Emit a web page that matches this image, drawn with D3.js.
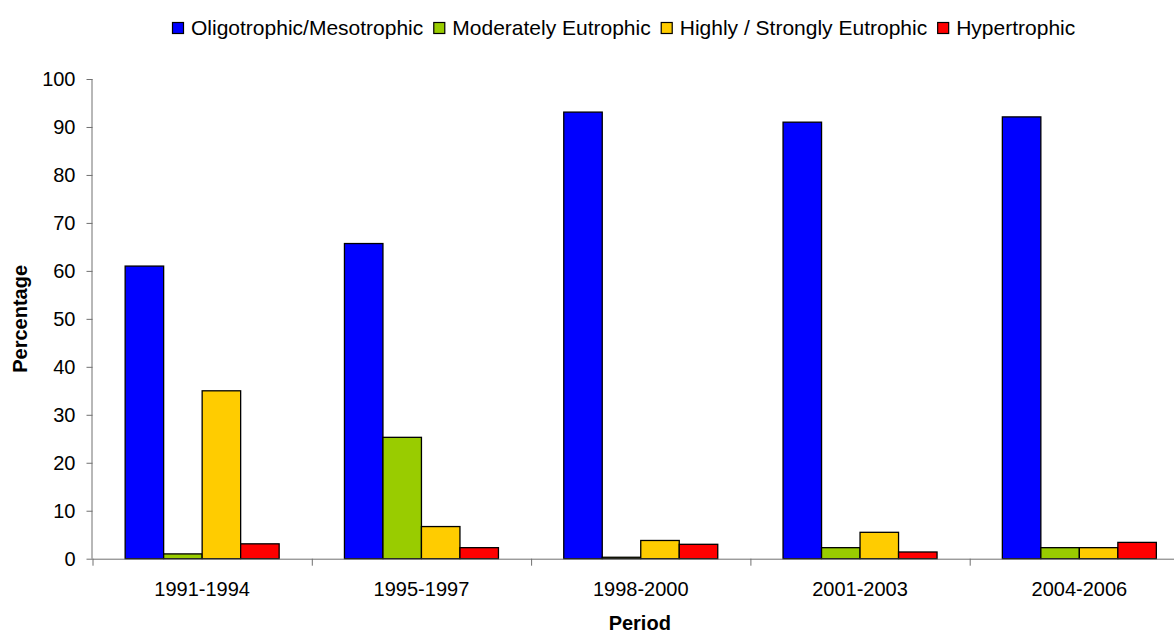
<!DOCTYPE html>
<html><head><meta charset="utf-8">
<script src="https://cdn.jsdelivr.net/npm/d3@7"></script>
<style>body{margin:0;background:#fff;} svg{display:block;font-family:"Liberation Sans",Arial,sans-serif;}</style>
</head><body>
<svg id="chart" width="1174" height="633"></svg>
<script>
const categories = ["1991-1994","1995-1997","1998-2000","2001-2003","2004-2006"];
const seriesNames = ["Oligotrophic/Mesotrophic","Moderately Eutrophic","Highly / Strongly Eutrophic","Hypertrophic"];
const seriesColors = ["#0000FF","#99CC00","#FFCC00","#FF0000"];
const oligo = [61, 65.7, 93.1, 91, 92.1];
const moderate = [1, 25.3, 0.3, 2.3, 2.3];
const highly = [35, 6.7, 3.8, 5.5, 2.3];
const hyper = [3.1, 2.3, 3.0, 1.4, 3.4];
const yTicks = [0,10,20,30,40,50,60,70,80,90,100];
const seriesValues = [oligo, moderate, highly, hyper];

const FONT = "Liberation Sans, Arial, sans-serif";
const svg = d3.select("#chart");
const x0 = 92.5, band = 219.3, yTop = 79, yBot = 558.7;
const x = d3.scaleBand().domain(categories).range([x0, x0 + band*categories.length]);
const xs = d3.scaleBand().domain(seriesNames).range([32.65, band - 32.65]);
const y = d3.scaleLinear().domain([0,100]).range([yBot, yTop]);

// bars
categories.forEach((c, ci) => {
  const g = svg.append("g").attr("transform", `translate(${x(c)},0)`);
  seriesNames.forEach((s, si) => {
    const v = seriesValues[si][ci];
    g.append("rect")
      .attr("x", xs(s)).attr("y", y(v))
      .attr("width", xs.bandwidth()).attr("height", yBot - y(v))
      .attr("fill", seriesColors[si]).attr("stroke", "#000").attr("stroke-width", 1.3);
  });
});

// y axis
const yAxis = svg.append("g").attr("transform", `translate(${x0},0)`)
  .call(d3.axisLeft(y).tickValues(yTicks).tickSize(6).tickPadding(11));
yAxis.selectAll("path,line").attr("stroke", "#707070");
yAxis.select(".domain").attr("d", `M-0.5,${yTop}V${yBot}`);
yAxis.selectAll("text").attr("font-size", 20).attr("fill", "#000").attr("font-family", FONT);

// x axis with boundary ticks
const xb = d3.scaleLinear().domain([0, categories.length]).range([x0, x0 + band*categories.length]);
const xAxisB = svg.append("g").attr("transform", `translate(0,${yBot})`)
  .call(d3.axisBottom(xb).tickValues(d3.range(categories.length+1)).tickSize(7).tickFormat(""));
xAxisB.selectAll("path,line").attr("stroke", "#707070");
xAxisB.select(".domain").attr("d", `M${x0},0.5H${x0 + band*categories.length}`);
const xAxisL = svg.append("g").attr("transform", `translate(0,${yBot})`)
  .call(d3.axisBottom(x).tickSize(0).tickPadding(23));
xAxisL.select(".domain").remove();
xAxisL.selectAll("text").attr("font-size", 20).attr("fill", "#000").attr("font-family", FONT);

// axis titles
svg.append("text").attr("x", x0 + band*categories.length/2 - 1).attr("y", 630)
  .attr("text-anchor", "middle").attr("font-size", 20).attr("font-weight", "bold").text("Period");
svg.append("text").attr("transform", `translate(27,${(yTop+yBot)/2}) rotate(-90)`)
  .attr("text-anchor", "middle").attr("font-size", 20).attr("font-weight", "bold").text("Percentage");

// legend
const leg = svg.append("g");
let lx = 172;
seriesNames.forEach((s, i) => {
  leg.append("rect").attr("x", lx + 0.5).attr("y", 22.5).attr("width", 11).attr("height", 11)
    .attr("fill", seriesColors[i]).attr("stroke", "#000").attr("stroke-width", 1.2);
  const t = leg.append("text").attr("x", lx + 19).attr("y", 35).attr("font-size", 21).text(s);
  const w = t.node().getComputedTextLength();
  lx += 19 + w + 10;
});
</script>
</body></html>
